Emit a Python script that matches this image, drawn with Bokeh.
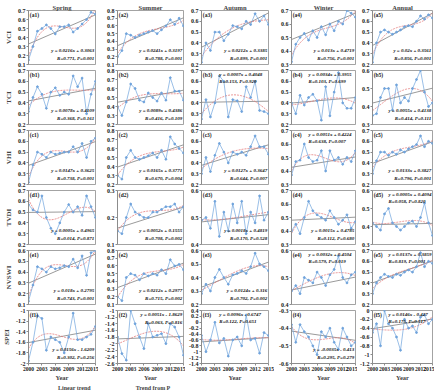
import numpy as np
from bokeh.plotting import figure
from bokeh.layouts import gridplot, column
from bokeh.models import Range1d, FixedTicker, CustomJSTickFormatter, Label, Legend, LegendItem
from bokeh.embed import file_html
from bokeh.resources import INLINE

years = list(range(2000, 2016))
seasons = ["Spring", "Summer", "Autumn", "Winter", "Annual"]
row_names = ["VCI", "TCI", "VHI", "TVDI", "NVSWI", "SPEI"]
row_letters = ["a", "b", "c", "d", "e", "f"]
x_ticks = [2000, 2003, 2006, 2009, 2012, 2015]

# ---- VCI ----
vci_spring = [0.15, 0.30, 0.47, 0.50, 0.54, 0.50, 0.44, 0.52, 0.52, 0.54, 0.46, 0.50, 0.55, 0.60, 0.68, 0.66]
vci_summer = [0.20, 0.28, 0.50, 0.48, 0.45, 0.48, 0.50, 0.52, 0.54, 0.50, 0.55, 0.60, 0.68, 0.62, 0.70, 0.60]
vci_autumn = [0.22, 0.40, 0.33, 0.50, 0.50, 0.42, 0.48, 0.56, 0.55, 0.53, 0.60, 0.57, 0.67, 0.60, 0.65, 0.57]
vci_winter = [0.32, 0.45, 0.50, 0.53, 0.48, 0.55, 0.50, 0.58, 0.52, 0.60, 0.55, 0.62, 0.60, 0.70, 0.68, 0.65]
vci_annual = [0.22, 0.40, 0.50, 0.52, 0.50, 0.48, 0.50, 0.52, 0.55, 0.56, 0.55, 0.60, 0.65, 0.62, 0.66, 0.63]
# ---- TCI ----
tci_spring = [0.32, 0.45, 0.55, 0.48, 0.35, 0.50, 0.54, 0.47, 0.50, 0.48, 0.65, 0.55, 0.63, 0.30, 0.48, 0.60]
tci_summer = [0.40, 0.30, 0.45, 0.65, 0.60, 0.47, 0.45, 0.55, 0.50, 0.46, 0.55, 0.47, 0.72, 0.57, 0.57, 0.47]
tci_autumn = [0.25, 0.43, 0.27, 0.40, 0.65, 0.60, 0.27, 0.43, 0.42, 0.32, 0.55, 0.45, 0.60, 0.33, 0.32, 0.30]
tci_winter = [0.40, 0.30, 0.47, 0.38, 0.45, 0.48, 0.42, 0.24, 0.55, 0.28, 0.50, 0.68, 0.40, 0.35, 0.35, 0.45]
tci_annual = [0.35, 0.36, 0.45, 0.50, 0.50, 0.38, 0.52, 0.42, 0.45, 0.43, 0.50, 0.55, 0.60, 0.48, 0.40, 0.42]
# ---- VHI ----
vhi_spring = [0.22, 0.38, 0.50, 0.48, 0.45, 0.50, 0.48, 0.49, 0.50, 0.50, 0.55, 0.50, 0.58, 0.45, 0.60, 0.63]
vhi_summer = [0.30, 0.26, 0.50, 0.58, 0.50, 0.48, 0.50, 0.52, 0.55, 0.50, 0.58, 0.48, 0.73, 0.65, 0.60, 0.55]
vhi_autumn = [0.30, 0.45, 0.32, 0.47, 0.58, 0.50, 0.40, 0.50, 0.48, 0.50, 0.47, 0.55, 0.65, 0.55, 0.55, 0.48]
vhi_winter = [0.37, 0.47, 0.48, 0.60, 0.50, 0.47, 0.48, 0.55, 0.40, 0.55, 0.48, 0.50, 0.45, 0.50, 0.47, 0.55]
vhi_annual = [0.30, 0.42, 0.50, 0.50, 0.47, 0.50, 0.48, 0.52, 0.50, 0.53, 0.55, 0.57, 0.65, 0.55, 0.60, 0.58]
# ---- TVDI ----
tvdi_spring = [0.57, 0.52, 0.50, 0.65, 0.45, 0.35, 0.30, 0.40, 0.50, 0.57, 0.50, 0.55, 0.47, 0.65, 0.55, 0.45]
tvdi_summer = [0.15, 0.14, 0.20, 0.25, 0.22, 0.21, 0.20, 0.20, 0.22, 0.22, 0.23, 0.24, 0.24, 0.25, 0.22, 0.24]
tvdi_autumn = [0.49, 0.50, 0.46, 0.56, 0.43, 0.52, 0.45, 0.55, 0.48, 0.56, 0.44, 0.52, 0.48, 0.58, 0.49, 0.52]
tvdi_winter = [0.40, 0.45, 0.38, 0.50, 0.62, 0.55, 0.52, 0.50, 0.48, 0.55, 0.50, 0.45, 0.48, 0.52, 0.42, 0.47]
tvdi_annual = [0.42, 0.40, 0.38, 0.47, 0.50, 0.42, 0.40, 0.38, 0.40, 0.42, 0.43, 0.40, 0.45, 0.53, 0.42, 0.35]
# ---- NVSWI ----
nvswi_spring = [0.13, 0.28, 0.45, 0.43, 0.40, 0.45, 0.43, 0.44, 0.46, 0.45, 0.52, 0.44, 0.55, 0.37, 0.58, 0.60]
nvswi_summer = [0.20, 0.15, 0.45, 0.50, 0.48, 0.42, 0.50, 0.47, 0.50, 0.48, 0.55, 0.50, 0.68, 0.60, 0.62, 0.55]
nvswi_autumn = [0.28, 0.35, 0.30, 0.40, 0.46, 0.40, 0.35, 0.42, 0.43, 0.45, 0.43, 0.48, 0.58, 0.50, 0.48, 0.45]
nvswi_winter = [0.45, 0.47, 0.44, 0.50, 0.49, 0.48, 0.52, 0.50, 0.47, 0.51, 0.53, 0.58, 0.50, 0.48, 0.51, 0.52]
nvswi_annual = [0.30, 0.40, 0.45, 0.48, 0.46, 0.45, 0.48, 0.47, 0.50, 0.52, 0.50, 0.55, 0.68, 0.55, 0.60, 0.58]
# ---- SPEI ----
spei_spring = [-1.95, -1.60, -1.10, -1.15, -1.75, -1.50, -1.55, -1.60, -1.80, -1.50, -1.05, -1.55, -1.55, -1.50, -1.45, -1.30]
spei_summer = [-1.80, -2.30, -2.50, -1.00, -1.40, -1.80, -2.15, -1.40, -1.80, -1.75, -1.70, -2.00, -1.40, -1.50, -1.80, -2.35]
spei_autumn = [-0.45, -1.00, -0.60, 0.00, -0.70, -0.55, -1.15, -0.60, -0.50, -0.80, 0.25, -0.60, -0.55, -1.05, -0.35, -0.45]
spei_winter = [-0.38, -0.48, -0.38, -0.42, -0.45, -0.50, -0.55, -0.42, -0.45, -0.40, -0.48, -0.52, -0.40, -0.45, -0.50, -0.48]
spei_annual = [-0.50, -0.30, -0.80, 0.00, -0.30, -0.40, -0.60, -0.90, -0.20, -0.40, -0.35, -0.50, -0.15, -0.10, -0.30, -0.20]

# linear trend coefficients (x = 1..16) and printed statistics
vci_slope = [0.0216, 0.0241, 0.0212, 0.013, 0.02]
vci_icpt = [0.3063, 0.3197, 0.3385, 0.4719, 0.3561]
vci_eq = ["y = 0.0216x + 0.3063", "y = 0.0241x + 0.3197", "y = 0.0212x + 0.3385", "y = 0.013x + 0.4719", "y = 0.02x + 0.3561"]
vci_st = ["R=0.771, P=0.001", "R=0.788, P=0.001", "R=0.899, P=0.001", "R=0.756, P=0.001", "R=0.856, P=0.001"]
tci_slope = [0.0078, 0.0089, 0.0007, 0.0034, 0.0055]
tci_icpt = [0.4109, 0.4386, 0.4048, 0.3955, 0.4138]
tci_eq = ["y = 0.0078x + 0.4109", "y = 0.0089x + 0.4386", "y = 0.0007x + 0.4048", "y = 0.0034x + 0.3955", "y = 0.0055x + 0.4138"]
tci_st = ["R=0.368, P=0.161", "R=0.416, P=0.109", "R=0.153, P=0.920", "R=0.103, P=0.699", "R=0.414, P=0.111"]
vhi_slope = [0.0147, 0.0165, 0.0127, 0.0051, 0.0133]
vhi_icpt = [0.3625, 0.3771, 0.3647, 0.4224, 0.3827]
vhi_eq = ["y = 0.0147x + 0.3625", "y = 0.0165x + 0.3771", "y = 0.0127x + 0.3647", "y = 0.0051x + 0.4224", "y = 0.0133x + 0.3827"]
vhi_st = ["R=0.738, P=0.001", "R=0.670, P=0.004", "R=0.644, P=0.007", "R=0.638, P=0.007", "R=0.796, P=0.001"]
tvdi_slope = [0.0005, 0.0052, 0.0018, 0.0015, 0.0005]
tvdi_icpt = [0.4965, 0.1555, 0.4819, 0.4785, 0.4094]
tvdi_eq = ["y = 0.0005x + 0.4965", "y = 0.0052x + 0.1555", "y = 0.0018x + 0.4819", "y = 0.0015x + 0.4785", "y = 0.0005x + 0.4094"]
tvdi_st = ["R=0.014, P=0.871", "R=0.708, P=0.002", "R=0.170, P=0.528", "R=0.112, P=0.680", "R=0.058, P=0.820"]
nvswi_slope = [0.018, 0.0212, 0.0124, 0.0032, 0.0137]
nvswi_icpt = [0.2795, 0.2977, 0.316, 0.4504, 0.3859]
nvswi_eq = ["y = 0.018x + 0.2795", "y = 0.0212x + 0.2977", "y = 0.0124x + 0.316", "y = 0.0032x + 0.4504", "y = 0.0137x + 0.3859"]
nvswi_st = ["R=0.743, P=0.001", "R=0.715, P=0.002", "R=0.702, P=0.002", "R=0.579, P=0.019", "R=0.819, P=0.001"]
spei_slope = [0.0156, 0.0051, 0.0096, -0.0035, 0.0146]
spei_icpt = [-1.6209, -1.8629, -0.6747, -0.413, -0.427]
spei_eq = ["y = 0.0156x - 1.6209", "y = 0.0051x - 1.8629", "y = 0.0096x - 0.6747", "y = -0.0035x - 0.413", "y = 0.0146x - 0.427"]
spei_st = ["R=0.302, P=0.256", "R=0.063, P=0.816", "R=0.122, P=0.651", "R=0.295, P=0.279", "R=0.175, P=0.517"]

# y axis limits per panel
vci_ylim = [(0.1, 0.7), (0.1, 0.8), (0.2, 0.7), (0.3, 0.7), (0.2, 0.7)]
tci_ylim = [(0.2, 0.7), (0.2, 0.8), (0.2, 0.7), (0.2, 0.7), (0.3, 0.6)]
vhi_ylim = [(0.2, 0.7), (0.2, 0.8), (0.2, 0.7), (0.3, 0.7), (0.2, 0.7)]
tvdi_ylim = [(0.2, 0.7), (0.1, 0.3), (0.4, 0.6), (0.3, 0.7), (0.3, 0.6)]
nvswi_ylim = [(0.1, 0.6), (0.1, 0.8), (0.2, 0.6), (0.4, 0.6), (0.2, 0.7)]
spei_ylim = [(-2.0, -1.0), (-2.6, -1.0), (-1.4, 0.4), (-0.6, -0.3), (-1.2, 0.0)]
spei_step = [0.2, 0.2, 0.2, 0.1, 0.2]

# where the equation sits in each panel
eq_pos = [
    ["br", "br", "br", "br", "br"],
    ["br", "br", "top", "top", "br"],
    ["br", "br", "br", "top", "br"],
    ["br", "br", "br", "br", "top"],
    ["br", "br", "br", "top", "top"],
    ["br", "tr", "top", "br", "top"],
]

rows_data = [
    [vci_spring, vci_summer, vci_autumn, vci_winter, vci_annual],
    [tci_spring, tci_summer, tci_autumn, tci_winter, tci_annual],
    [vhi_spring, vhi_summer, vhi_autumn, vhi_winter, vhi_annual],
    [tvdi_spring, tvdi_summer, tvdi_autumn, tvdi_winter, tvdi_annual],
    [nvswi_spring, nvswi_summer, nvswi_autumn, nvswi_winter, nvswi_annual],
    [spei_spring, spei_summer, spei_autumn, spei_winter, spei_annual],
]
rows_slope = [vci_slope, tci_slope, vhi_slope, tvdi_slope, nvswi_slope, spei_slope]
rows_icpt = [vci_icpt, tci_icpt, vhi_icpt, tvdi_icpt, nvswi_icpt, spei_icpt]
rows_eq = [vci_eq, tci_eq, vhi_eq, tvdi_eq, nvswi_eq, spei_eq]
rows_st = [vci_st, tci_st, vhi_st, tvdi_st, nvswi_st, spei_st]
rows_ylim = [vci_ylim, tci_ylim, vhi_ylim, tvdi_ylim, nvswi_ylim, spei_ylim]

FONT = "Liberation Serif"
BLUE = "#6fa3dc"
GREY = "#6f6f6f"
RED = "#e47a7a"

col_w = [98, 87, 89, 83, 77]
col_left = [28, 19, 16, 17, 14]
col_right = [3, 2, 6, 2, 2]
row_h = [67, 60, 60, 60, 60, 76]
row_top = [10, 3, 3, 3, 3, 3]
row_bot = [3, 3, 3, 3, 3, 19]

fmt = CustomJSTickFormatter(code="return String(Math.round(tick*10)/10);")

grid = []
for r in range(6):
    row = []
    for c in range(5):
        lo, hi = rows_ylim[r][c]
        step = spei_step[c] if r == 5 else 0.1
        kw = {}
        if r == 0:
            kw["title"] = seasons[c]
        p = figure(width=col_w[c], height=row_h[r], output_backend="svg", toolbar_location=None,
                   x_range=Range1d(2000, 2015), y_range=Range1d(lo, hi),
                   min_border_left=col_left[c], min_border_right=col_right[c],
                   min_border_top=row_top[r], min_border_bottom=row_bot[r], **kw)
        p.grid.visible = False
        p.outline_line_color = "#8c8c8c"
        p.outline_line_width = 0.8
        nt = int(round((hi - lo) / step))
        ticks = [round(lo + i * step, 2) for i in range(nt + 1)]
        p.yaxis.ticker = FixedTicker(ticks=ticks)
        p.yaxis.formatter = fmt
        p.xaxis.ticker = FixedTicker(ticks=x_ticks)
        for ax in (p.xaxis[0], p.yaxis[0]):
            ax.axis_line_color = "#8c8c8c"
            ax.major_tick_line_color = "#8c8c8c"
            ax.major_tick_in = 0
            ax.major_tick_out = 2
            ax.minor_tick_line_color = None
            ax.major_label_text_font = FONT
            ax.major_label_text_font_style = "bold"
            ax.major_label_text_font_size = "6px"
            ax.major_label_text_color = "#222222"
            ax.major_label_standoff = 1
        if r < 5:
            p.xaxis.visible = False
        else:
            p.xaxis.major_label_text_font_size = "5.6px"
            p.xaxis.axis_label = "Year"
            p.xaxis.axis_label_text_font = FONT
            p.xaxis.axis_label_text_font_style = "bold"
            p.xaxis.axis_label_text_font_size = "6.5px"
            p.xaxis.axis_label_standoff = 0
        if c == 0:
            p.yaxis.axis_label = row_names[r]
            p.yaxis.axis_label_text_font = FONT
            p.yaxis.axis_label_text_font_style = "bold"
            p.yaxis.axis_label_text_font_size = "7px"
            p.yaxis.axis_label_standoff = 2
        if r == 0:
            p.title.align = "center"
            p.title.text_font = FONT
            p.title.text_font_style = "bold"
            p.title.text_font_size = "6.5px"
            p.title.standoff = 0
            p.title.offset = 0

        vals = rows_data[r][c]
        xs = np.arange(1, 17)
        # linear trend from printed equation
        sl, ic = rows_slope[r][c], rows_icpt[r][c]
        p.line([years[0], years[-1]], [sl * 1 + ic, sl * 16 + ic], line_color=GREY, line_width=0.7)
        # polynomial trend fitted to the series
        coef = np.polyfit(xs, vals, 3)
        xf = np.linspace(1, 16, 61)
        p.line(list(1999 + xf), list(np.polyval(coef, xf)), line_color=RED, line_width=0.8, line_dash="2 1")
        # data
        p.line(years, vals, line_color=BLUE, line_width=0.7)
        p.scatter(years, vals, size=1.8, marker="circle", fill_color=BLUE, line_color=BLUE)

        # panel label
        p.add_layout(Label(x=2000.3, y=hi - (hi - lo) * 0.02, text="(%s%d)" % (row_letters[r], c + 1),
                           text_font=FONT, text_font_style="bold", text_font_size="5.5px",
                           text_baseline="top", text_align="left", text_color="#222222"))
        pos = eq_pos[r][c]
        eq = rows_eq[r][c]
        st = rows_st[r][c]
        if pos == "br":
            x0, al = 2014.7, "right"
            y1, y2 = lo + (hi - lo) * 0.26, lo + (hi - lo) * 0.12
        elif pos == "tr":
            x0, al = 2014.7, "right"
            y1, y2 = lo + (hi - lo) * 0.92, lo + (hi - lo) * 0.78
        else:
            x0, al = 2004.0, "left"
            y1, y2 = lo + (hi - lo) * 0.93, lo + (hi - lo) * 0.79
        for yy, tx in ((y1, eq), (y2, st)):
            p.add_layout(Label(x=x0, y=yy, text=tx, text_font=FONT, text_font_style="bold italic",
                               text_font_size="5px", text_align=al, text_baseline="middle",
                               text_color="#111111"))
        row.append(p)
    grid.append(row)

g = gridplot(grid, toolbar_location=None)

lf = figure(width=434, height=8, output_backend="svg", toolbar_location=None,
            x_range=Range1d(0, 1), y_range=Range1d(0, 1), min_border=0)
lf.axis.visible = False
lf.grid.visible = False
lf.outline_line_color = None
r1 = lf.line([], [], line_color=GREY, line_width=0.8)
r2 = lf.line([], [], line_color=RED, line_width=0.8, line_dash="2 1")
leg = Legend(items=[LegendItem(label="Linear trend", renderers=[r1]),
                    LegendItem(label="Trend from P", renderers=[r2])],
             orientation="horizontal", location=(35, 0))
leg.label_text_font = FONT
leg.label_text_font_style = "bold"
leg.label_text_font_size = "6px"
leg.glyph_height = 6
leg.glyph_width = 20
leg.label_height = 6
leg.label_standoff = 3
leg.spacing = 22
leg.padding = 0
leg.margin = 0
leg.border_line_color = None
leg.background_fill_alpha = 0
lf.add_layout(leg)

layout = column(g, lf)
open("out.html", "w").write(file_html(layout, INLINE))
